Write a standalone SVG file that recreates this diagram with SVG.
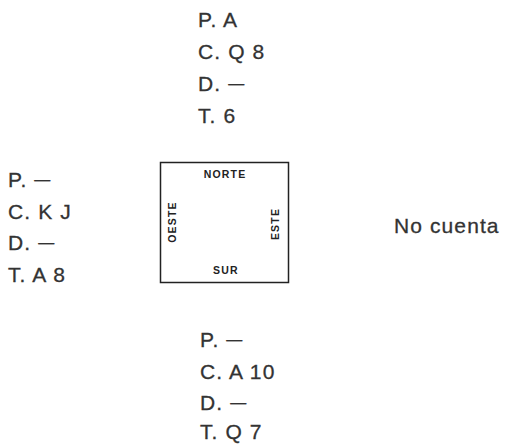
<svg xmlns="http://www.w3.org/2000/svg" width="505" height="444" viewBox="0 0 505 444">
<style>
.t{font-family:"Liberation Sans",Arial,sans-serif;font-size:21px;fill:#333;letter-spacing:1.1px;stroke:#333;stroke-width:0.3px}
.d{font-size:16px}
.s{font-family:"Liberation Sans",Arial,sans-serif;font-size:10.5px;font-weight:bold;fill:#222;letter-spacing:1.2px;text-anchor:middle}
</style>
<rect width="505" height="444" fill="#fff"/>
<g id="norte-hand">
<text class="t" x="198" y="27">P. A</text>
<text class="t" x="198" y="59">C. Q 8</text>
<text class="t" x="198" y="91">D. <tspan class="d" dy="-2.5">—</tspan></text>
<text class="t" x="198" y="123">T. 6</text>
</g>
<g id="oeste-hand">
<text class="t" x="8" y="187">P. <tspan class="d" dy="-2.5">—</tspan></text>
<text class="t" x="8" y="219">C. K J</text>
<text class="t" x="8" y="250">D. <tspan class="d" dy="-2.5">—</tspan></text>
<text class="t" x="8" y="282">T. A 8</text>
</g>
<g id="sur-hand">
<text class="t" x="200" y="347">P. <tspan class="d" dy="-2.5">—</tspan></text>
<text class="t" x="200" y="379">C. A 10</text>
<text class="t" x="200" y="410">D. <tspan class="d" dy="-2.5">—</tspan></text>
<text class="t" x="200" y="439">T. Q 7</text>
</g>
<g id="este-hand">
<text class="t" x="394" y="233">No cuenta</text>
</g>
<g id="table">
<rect x="160.5" y="162.5" width="128" height="120" fill="none" stroke="#222" stroke-width="1.5"/>
<text class="s" x="225" y="178">NORTE</text>
<text class="s" x="226" y="274">SUR</text>
<text class="s" transform="translate(176,222) rotate(-90)">OESTE</text>
<text class="s" transform="translate(279,224) rotate(-90)">ESTE</text>
</g>
<g id="connectors"></g>
</svg>
